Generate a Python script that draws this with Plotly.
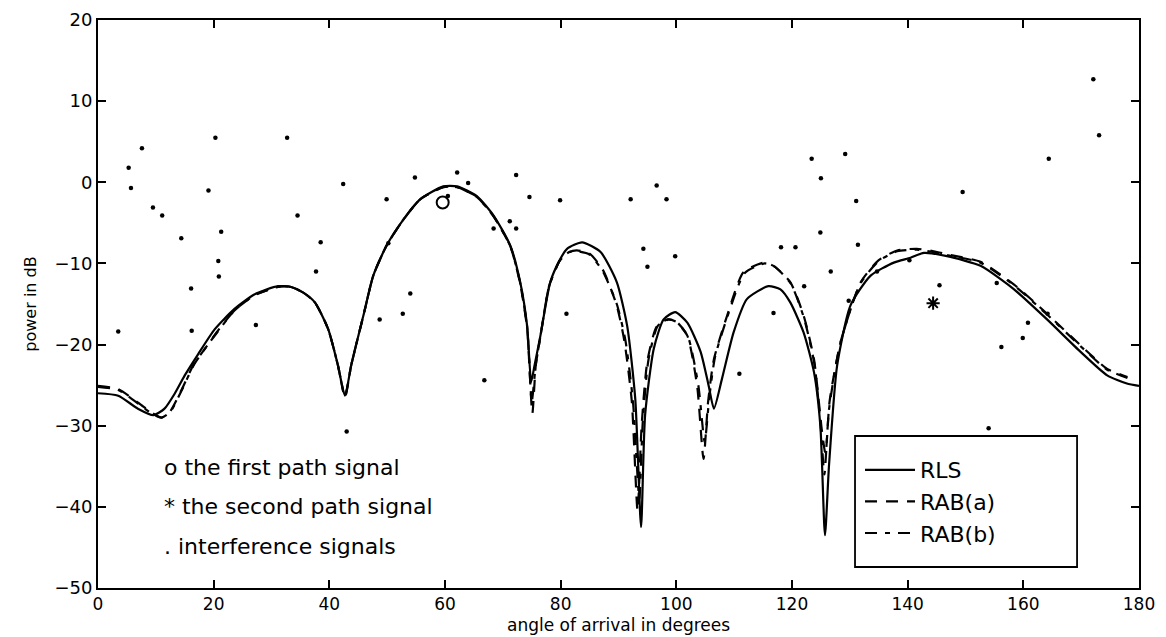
import plotly.graph_objects as go

# ---- RLS (solid) ----
rls_x = [0, 3.5, 6.9, 9.6, 11.5, 13.3, 15.0, 17.3, 20.2, 23.6, 27.1, 31.1, 33.4, 35.5, 37.5, 39.8,
         41.5, 42.7, 43.8, 45.9, 47.6, 49.9, 52.8, 55.7, 59.7, 62.1, 65.5, 68.4, 71.3, 73.0, 74.2,
         74.9, 75.5, 76.5, 78.2, 79.9, 81.1, 83.7, 86.9, 89.7, 91.5, 92.9, 93.9, 94.6, 96.1, 97.8,
         99.8, 101.9, 104.2, 105.6, 106.5, 107.9, 109.9, 112.2, 115.9, 118.0, 119.7, 122.0, 123.8,
         124.9, 125.7, 126.4, 127.8, 130.1, 133.6, 137.6, 140.5, 142.8, 146.8, 152.6, 158.4, 164.1,
         169.9, 174.5, 177.9, 180]
rls_y = [-26.0, -26.3, -27.9, -28.7, -27.9, -26.0, -23.8, -21.2, -18.1, -15.6, -13.8, -12.8, -12.9,
         -13.6, -14.8, -18.1, -22.6, -26.3, -22.5, -16.4, -11.5, -7.8, -4.6, -2.1, -0.5, -0.5, -1.7,
         -4.1, -7.8, -12.3, -17.7, -24.6, -22.5, -18.9, -12.3, -9.5, -8.2, -7.4, -8.6, -12.3, -17.7,
         -26.7, -42.5, -28.7, -20.5, -16.9, -16.0, -17.3, -20.9, -25.1, -27.9, -24.2, -18.5, -14.4,
         -12.8, -13.2, -14.8, -18.5, -23.4, -30.0, -43.5, -34.9, -22.6, -15.2, -11.5, -9.9, -9.3,
         -8.7, -9.1, -10.3, -13.2, -16.9, -20.9, -23.8, -24.8, -25.1]

# ---- RAB(a) (dashed) ----
raba_x = [0, 3.5, 7.0, 9.5, 11.0, 12.5, 14.5, 16.5, 18.5, 20.5, 23.6, 27.1, 31.1, 33.4, 35.5, 37.5,
          39.8, 41.5, 42.7, 43.8, 45.9, 47.6, 49.9, 52.8, 55.7, 59.7, 62.1, 65.5, 68.4, 71.3, 73.0,
          74.2, 75.1, 75.7, 76.5, 78.0, 79.9, 81.5, 82.8, 85.0, 87.3, 89.7, 91.0, 92.3, 93.3, 94.0,
          95.0, 96.6, 98.5, 100.0, 101.9, 103.6, 104.7, 105.5, 106.5, 108.8, 111.6, 115.1, 116.8,
          119.7, 122.0, 123.8, 125.2, 125.8, 126.5, 128.4, 131.9, 135.0, 138.2, 141.6, 144.5, 147.0,
          152.6, 158.4, 164.1, 169.9, 174.5, 178.0]
raba_y = [-25.1, -25.5, -27.2, -28.5, -29.0, -28.2, -25.5, -22.5, -20.5, -18.5, -15.8, -13.9, -12.9,
          -12.9, -13.6, -14.8, -18.1, -22.6, -26.5, -22.5, -16.4, -11.5, -7.8, -4.6, -2.1, -0.6, -0.6,
          -1.8, -4.2, -7.9, -12.5, -18.0, -28.5, -22.5, -19.0, -12.8, -9.6, -8.6, -8.4, -8.8, -10.8,
          -15.2, -19.5, -27.0, -40.5, -30.0, -22.0, -17.8, -16.9, -17.2, -18.9, -25.1, -34.1, -27.0,
          -21.8, -16.4, -11.1, -9.9, -10.3, -12.3, -16.4, -21.8, -30.8, -33.5, -27.0, -19.7, -12.3,
          -9.6, -8.4, -8.2, -8.5, -8.9, -9.8, -12.6, -16.2, -20.1, -23.0, -24.0]

# ---- RAB(b) (dash-dot) ----
rabb_x = [0, 3.5, 7.0, 9.5, 11.0, 12.5, 14.5, 16.5, 18.5, 20.5, 23.6, 27.1, 31.1, 33.4, 35.5, 37.5,
          39.8, 41.5, 42.7, 43.8, 45.9, 47.6, 49.9, 52.8, 55.7, 59.7, 62.1, 65.5, 68.4, 71.3, 73.0,
          74.2, 75.0, 75.7, 76.5, 78.0, 79.9, 81.5, 82.8, 85.0, 87.3, 89.7, 91.2, 92.5, 93.6, 94.2,
          95.2, 96.8, 98.7, 100.2, 102.0, 103.8, 104.9, 105.7, 106.7, 109.0, 111.8, 115.3, 117.0,
          119.8, 122.1, 123.9, 125.0, 125.6, 126.4, 128.3, 131.8, 135.0, 138.2, 141.6, 144.5, 147.0,
          152.6, 158.4, 164.1, 169.9, 174.5, 178.0]
rabb_y = [-25.2, -25.6, -27.3, -28.6, -29.0, -28.3, -25.6, -22.6, -20.5, -18.6, -15.8, -13.9, -12.9,
          -12.9, -13.6, -14.8, -18.1, -22.6, -26.4, -22.5, -16.4, -11.5, -7.8, -4.6, -2.1, -0.6, -0.6,
          -1.8, -4.2, -7.9, -12.4, -17.8, -27.0, -22.5, -19.0, -12.8, -9.6, -8.6, -8.5, -8.9, -11.0,
          -15.0, -19.5, -27.0, -39.0, -29.5, -21.8, -17.7, -16.9, -17.3, -19.0, -25.0, -32.0, -26.5,
          -21.5, -16.2, -11.2, -10.0, -10.4, -12.5, -16.8, -22.5, -30.5, -36.0, -28.0, -20.0, -12.5,
          -9.7, -8.5, -8.3, -8.6, -9.0, -9.9, -12.7, -16.3, -20.2, -23.1, -24.1]

# ---- markers ----
first_path_x = [59.6]
first_path_y = [-2.5]
second_path_x = [144.4]
second_path_y = [-14.9]

interf_x = [3.5, 5.3, 5.7, 7.6, 9.5, 11.1, 14.4, 16.1, 16.2, 19.1, 20.3, 21.3, 20.8, 20.9, 27.3,
            32.7, 34.5, 38.5, 37.7, 42.4, 43.0, 48.7, 49.9, 50.2, 52.7, 54.0, 54.8, 60.5, 62.1,
            64.0, 66.8, 68.4, 71.2, 72.3, 72.3, 74.6, 79.9, 81.0, 92.1, 94.3, 95.0, 96.6, 98.3,
            99.8, 110.9, 116.8, 118.1, 120.6, 122.1, 123.4, 124.9, 125.0, 126.7, 129.2, 129.8,
            131.1, 131.4, 134.7, 140.3, 145.5, 149.5, 154.0, 155.4, 156.2, 159.9, 160.8, 164.2,
            164.4, 172.1, 173.1]
interf_y = [-18.4, 1.8, -0.7, 4.2, -3.1, -4.1, -6.9, -13.1, -18.3, -1.0, 5.5, -6.1, -9.7, -11.6,
            -17.6, 5.5, -4.1, -7.4, -11.0, -0.2, -30.7, -16.9, -2.1, -7.5, -16.2, -13.7, 0.6, -1.7,
            1.2, -0.1, -24.4, -5.7, -4.8, -5.7, 0.9, -1.8, -2.2, -16.2, -2.1, -8.2, -10.4, -0.4,
            -2.1, -9.1, -23.6, -16.1, -8.0, -8.0, -12.8, 2.9, -6.2, 0.5, -11.0, 3.5, -14.6, -2.3,
            -7.7, -11.0, -9.6, -12.7, -1.2, -30.3, -12.4, -20.3, -19.2, -17.3, -16.2, 2.9, 12.7, 5.8]

x_ticks = [0, 20, 40, 60, 80, 100, 120, 140, 160, 180]
y_ticks = [-50, -40, -30, -20, -10, 0, 10, 20]

note_lines = ["o the first path signal", "* the second path signal", ". interference signals"]
note_y = [-35.1, -40.0, -44.9]
note_x = 11.1

x_title = "angle of arrival in degrees"
y_title = "power in dB"

FONT = "DejaVu Sans"
PAD = "\u00a0" * 4

fig = go.Figure()
fig.add_trace(go.Scatter(x=rls_x, y=rls_y, mode="lines", name="RLS" + PAD,
                         line=dict(color="black", width=2.2, shape="spline", smoothing=0.6)))
fig.add_trace(go.Scatter(x=raba_x, y=raba_y, mode="lines", name="RAB(a)" + PAD,
                         line=dict(color="black", width=2.2, dash="12px,9px", shape="spline", smoothing=0.6)))
fig.add_trace(go.Scatter(x=rabb_x, y=rabb_y, mode="lines", name="RAB(b)" + PAD,
                         line=dict(color="black", width=2.2, dash="12px,8px,5px,8px", shape="spline", smoothing=0.6)))
fig.add_trace(go.Scatter(x=interf_x, y=interf_y, mode="markers", showlegend=False,
                         marker=dict(symbol="circle", size=4.5, color="black")))
fig.add_trace(go.Scatter(x=first_path_x, y=first_path_y, mode="markers", showlegend=False,
                         marker=dict(symbol="circle-open", size=12, color="black", line=dict(width=2))))
fig.add_trace(go.Scatter(x=second_path_x, y=second_path_y, mode="markers", showlegend=False,
                         marker=dict(symbol="asterisk-open", size=11, color="black", line=dict(width=2))))

for t, yy in zip(note_lines, note_y):
    fig.add_annotation(x=note_x, y=yy, text=t, showarrow=False, xanchor="left", yanchor="middle",
                       font=dict(family=FONT, size=22, color="black"))

# x-axis title placed just above the bottom edge
fig.add_annotation(x=0.5, y=-0.0845, xref="paper", yref="paper", text=x_title, showarrow=False,
                   xanchor="center", yanchor="bottom", borderpad=0,
                   font=dict(family=FONT, size=17, color="black"))

# legend frame
fig.add_shape(type="rect", xref="paper", yref="paper", x0=0.7272, x1=0.9405, y0=0.037, y1=0.2676,
              line=dict(color="black", width=1.8), fillcolor="white", layer="above")

axis_common = dict(showline=True, linecolor="black", linewidth=2, mirror="ticks", ticks="inside",
                   ticklen=8, tickwidth=1.5, tickcolor="black", showgrid=False, zeroline=False,
                   automargin=False, tickfont=dict(family=FONT, size=18, color="black"))

fig.update_layout(
    width=1166, height=637,
    margin=dict(l=98, r=27, t=20, b=49),
    paper_bgcolor="white", plot_bgcolor="white",
    xaxis=dict(range=[0, 180], tickvals=x_ticks, ticktext=[str(v) for v in x_ticks],
               **{**axis_common, "tickfont": dict(family=FONT, size=17, color="black")}),
    yaxis=dict(range=[-50, 20], tickvals=y_ticks,
               title=dict(text=y_title, standoff=14,
                          font=dict(family=FONT, size=16, color="black")),
               **axis_common),
    legend=dict(x=0.732, y=0.2447, xanchor="left", yanchor="top", bgcolor="rgba(0,0,0,0)",
                borderwidth=0, itemwidth=50,
                font=dict(family=FONT, size=22, color="black")),
    showlegend=True,
)

fig.write_html("out.html", config={"displayModeBar": False},
               post_script="document.body.style.margin='0';")
